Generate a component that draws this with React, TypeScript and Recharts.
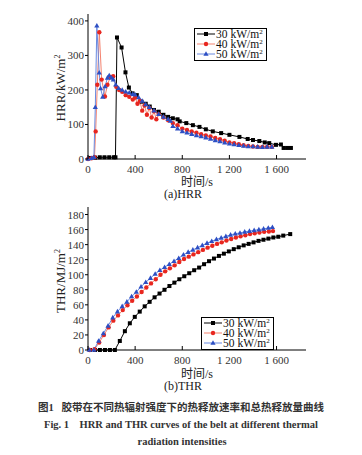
import { Line, LineChart, XAxis, YAxis } from "recharts";

// HRR, kW/m2
const hrr30Time = [20, 60, 100, 140, 180, 220, 233, 246, 285, 318, 347, 378, 414, 454, 490, 524, 560, 600, 640, 680, 720, 760, 778, 834, 890, 946, 1000, 1059, 1130, 1200, 1285, 1355, 1400, 1454, 1500, 1538, 1595, 1637, 1660, 1690, 1722];
const hrr30 = [3, 4, 5, 5, 5, 5, 5, 352, 323, 251, 207, 190, 185, 166, 160, 152, 142, 137, 128, 122, 118, 115, 109, 104, 98, 93, 86, 80, 75, 70, 64, 58, 55, 52, 48, 46, 41, 42, 32, 32, 32];

const hrr40Time = [0, 30, 55, 65, 79, 96, 116, 144, 165, 190, 214, 240, 265, 290, 320, 350, 380, 400, 420, 440, 460, 480, 500, 520, 540, 560, 580, 600, 640, 680, 720, 760, 800, 840, 880, 920, 960, 1000, 1040, 1080, 1120, 1160, 1200, 1240, 1280, 1320, 1360, 1400, 1440, 1480, 1520, 1560];
const hrr40 = [0, 2, 5, 80, 215, 367, 230, 181, 215, 238, 240, 209, 200, 195, 185, 180, 172, 178, 160, 168, 140, 155, 128, 148, 120, 138, 115, 130, 120, 112, 104, 98, 88, 84, 80, 76, 72, 68, 65, 61, 57, 53, 48, 46, 43, 40, 38, 36, 35, 35, 35, 35];

const hrr50Time = [0, 30, 50, 62, 75, 95, 107, 125, 145, 165, 180, 200, 215, 235, 260, 290, 320, 350, 380, 400, 430, 460, 490, 520, 560, 600, 640, 680, 700, 720, 760, 800, 840, 880, 920, 960, 1000, 1040, 1080, 1120, 1160, 1200, 1240, 1280, 1320, 1360, 1400, 1440, 1480, 1520, 1560];
const hrr50 = [0, 2, 5, 150, 386, 250, 204, 180, 210, 235, 242, 235, 230, 215, 205, 200, 195, 192, 188, 186, 178, 168, 158, 150, 140, 130, 122, 115, 110, 95, 88, 80, 76, 72, 68, 65, 62, 58, 54, 51, 47, 44, 42, 40, 38, 36, 36, 35, 34, 35, 35];

// THR, MJ/m2
const thr30Time = [17, 59, 101, 144, 186, 228, 270, 313, 355, 397, 439, 481, 523, 565, 607, 649, 691, 733, 775, 817, 859, 901, 943, 985, 1027, 1069, 1111, 1153, 1195, 1237, 1279, 1321, 1363, 1405, 1447, 1489, 1531, 1573, 1615, 1657, 1716];
const thr30 = [0, 0, 0, 0, 0, 0, 12, 25, 35.5, 44, 51, 58, 64, 70, 75, 80, 85, 89.5, 94, 98, 102, 106, 109.5, 114, 118, 121.5, 125, 128, 131, 134, 136.5, 139, 141, 143, 145, 146.5, 148, 149.5, 150.5, 152, 154];

const thr40Time = [15, 55, 95, 135, 175, 215, 255, 295, 335, 375, 415, 455, 495, 535, 575, 615, 655, 695, 735, 775, 815, 855, 895, 935, 975, 1015, 1055, 1095, 1135, 1175, 1215, 1255, 1295, 1335, 1375, 1415, 1455, 1495, 1535, 1570];
const thr40 = [0, 1, 10, 20, 30, 39, 46, 53, 59.5, 65.5, 71, 77, 83, 88.5, 94, 100, 104.5, 108.5, 112.5, 117, 121, 124, 127, 130, 133, 136, 138.5, 141, 143, 145.5, 147.5, 149.5, 151, 152.5, 154, 155, 156, 157, 157.5, 158];

const thr50Time = [10, 50, 90, 130, 170, 210, 250, 290, 330, 370, 410, 450, 490, 530, 570, 610, 650, 690, 730, 770, 810, 850, 890, 930, 970, 1010, 1050, 1090, 1130, 1170, 1210, 1250, 1290, 1330, 1370, 1410, 1450, 1490, 1530, 1565];
const thr50 = [0, 0, 12, 22, 32, 43, 51, 58, 64, 71, 77, 84, 90, 95.5, 101, 106, 110, 114, 118, 122, 126.5, 130, 133, 136, 139, 142, 144.5, 147, 149, 151, 153, 154.5, 155.5, 157, 158, 159, 160, 161, 162, 163];

const seriesNames = ["30 kW/m", "40 kW/m", "50 kW/m"];
const timeTicks = [0, 400, 800, 1200, 1600];
const hrrTicks = [0, 100, 200, 300, 400];
const thrTicks = [0, 20, 40, 60, 80, 100, 120, 140, 160, 180];

const SERIF = "Liberation Serif, Noto Sans CJK SC, serif";
const TICK_FILL = "#333";
const styles = [
  { line: "#000000", mark: "#000000", shape: "square" },
  { line: "#f4836f", mark: "#e8261f", shape: "circle" },
  { line: "#6a8ae0", mark: "#2d4fc4", shape: "triangle" },
];

const zip = (t: number[], v: number[]) => t.map((x, i) => ({ t: x, v: v[i] }));

function Marker({ cx, cy, shape, color }: { cx: number; cy: number; shape: string; color: string }) {
  if (shape === "square") return <rect x={cx - 2} y={cy - 2} width={4} height={4} fill={color} />;
  if (shape === "circle") return <circle cx={cx} cy={cy} r={2.2} fill={color} />;
  return <polygon points={`${cx},${cy - 2.8} ${cx - 2.6},${cy + 1.8} ${cx + 2.6},${cy + 1.8}`} fill={color} />;
}

function LegendBox({ left, top }: { left: number; top: number }) {
  return (
    <div
      style={{
        position: "absolute",
        left,
        top,
        border: "1px solid #000",
        background: "#fff",
        padding: "0 3px 1px 2px",
        fontFamily: SERIF,
        fontSize: 11.5,
        lineHeight: "10px",
      }}
    >
      {seriesNames.map((name, i) => (
        <div key={name} style={{ display: "flex", alignItems: "center", height: 10 }}>
          <svg width={18} height={8}>
            <line x1={0} y1={4} x2={18} y2={4} stroke={styles[i].line} strokeWidth={1} />
            <Marker cx={9} cy={4} shape={styles[i].shape} color={styles[i].mark} />
          </svg>
          <span style={{ marginLeft: 1, color: "#111", whiteSpace: "nowrap" }}>
            {name}
            <sup style={{ fontSize: 7, verticalAlign: "top", lineHeight: "6px" }}>2</sup>
          </span>
        </div>
      ))}
    </div>
  );
}

const fmtTime = (v: number) => (v >= 1000 ? `${Math.floor(v / 1000)} ${String(v % 1000).padStart(3, "0")}` : String(v));

// recharts hands the tick x/y after the default 6px tick + 2px margin;
// x ticks point up into the plot, y ticks stick out to the left
function TimeTick({ x, y, payload }: any) {
  const axisY = y - 8;
  return (
    <g>
      <line x1={x} y1={axisY} x2={x} y2={axisY - 4} stroke="#000" />
      <text x={x} y={axisY + 14} textAnchor="middle" fontSize={11} fill={TICK_FILL} fontFamily={SERIF}>
        {fmtTime(payload.value)}
      </text>
    </g>
  );
}

function ValueTick({ x, y, payload }: any) {
  const axisX = x + 8;
  return (
    <g>
      <line x1={axisX} y1={y} x2={axisX - 3} y2={y} stroke="#000" />
      <text x={axisX - 4} y={y + 4} textAnchor="end" fontSize={11} fill={TICK_FILL} fontFamily={SERIF}>
        {String(payload.value)}
      </text>
    </g>
  );
}

function Panel({
  series,
  yMax,
  yTicks,
  height,
  top,
}: {
  series: { t: number; v: number }[][];
  yMax: number;
  yTicks: number[];
  height: number;
  top: number;
}) {
  return (
    <LineChart width={362} height={height} margin={{ top, right: 56, bottom: 0, left: 58 }}>
      <XAxis
        dataKey="t"
        type="number"
        domain={[0, 1850]}
        ticks={timeTicks}
        interval={0}
        height={16}
        stroke="#000"
        tickLine={false}
        tick={<TimeTick />}
      />
      <YAxis
        type="number"
        domain={[0, yMax]}
        ticks={yTicks}
        interval={0}
        width={30}
        stroke="#000"
        tickLine={false}
        tick={<ValueTick />}
      />
      {series.map((data, i) => (
        <Line
          key={i}
          data={data}
          dataKey="v"
          type="linear"
          stroke={styles[i].line}
          strokeWidth={1}
          isAnimationActive={false}
          dot={(p: any) => <Marker key={p.index} cx={p.cx} cy={p.cy} shape={styles[i].shape} color={styles[i].mark} />}
          activeDot={false}
        />
      ))}
    </LineChart>
  );
}

const abs = (left: number, top: number, extra: React.CSSProperties = {}): React.CSSProperties => ({
  position: "absolute",
  left,
  top,
  transform: "translate(-50%, -50%)",
  whiteSpace: "nowrap",
  fontFamily: SERIF,
  color: "#222",
  ...extra,
});

export default function App() {
  return (
    <div style={{ position: "absolute", left: 0, top: 0, width: 362, height: 455, background: "#fff" }}>
      {/* axis titles first so the charts paint over them */}
      <svg width={362} height={455} style={{ position: "absolute", left: 0, top: 0 }}>
        <text
          x={61}
          y={88}
          transform="rotate(-90 61 88)"
          textAnchor="middle"
          dy={4}
          fontSize={13}
          fill="#222"
          fontFamily={SERIF}
        >
          HRR/kW/m<tspan fontSize={8} dy={-5}>2</tspan>
        </text>
        <text
          x={61}
          y={281}
          transform="rotate(-90 61 281)"
          textAnchor="middle"
          dy={4}
          fontSize={13}
          fill="#222"
          fontFamily={SERIF}
        >
          THR/MJ/m<tspan fontSize={8} dy={-5}>2</tspan>
        </text>
      </svg>

      <div style={{ position: "absolute", left: 0, top: 0 }}>
        <Panel
          series={[zip(hrr30Time, hrr30), zip(hrr40Time, hrr40), zip(hrr50Time, hrr50)]}
          yMax={420}
          yTicks={hrrTicks}
          height={175}
          top={14}
        />
      </div>
      <div style={{ position: "absolute", left: 0, top: 190 }}>
        <Panel
          series={[zip(thr30Time, thr30), zip(thr40Time, thr40), zip(thr50Time, thr50)]}
          yMax={190}
          yTicks={thrTicks}
          height={176}
          top={17}
        />
      </div>
      <LegendBox left={194} top={28} />
      <LegendBox left={201} top={317} />

      <div style={abs(197, 181, { fontSize: 12 })}>时间/s</div>
      <div style={abs(183, 194, { fontSize: 12 })}>(a)HRR</div>
      <div style={abs(197, 373, { fontSize: 12 })}>时间/s</div>
      <div style={abs(183, 386, { fontSize: 12 })}>(b)THR</div>

      <div style={abs(181, 406, { fontSize: 10.5, fontWeight: 700, color: "#333" })}>
        图1&nbsp;&nbsp;&nbsp;胶带在不同热辐射强度下的热释放速率和总热释放量曲线
      </div>
      <div style={abs(181, 424, { fontSize: 10.5, fontWeight: 700, color: "#333" })}>
        Fig. 1&nbsp;&nbsp;&nbsp;&nbsp;HRR and THR curves of the belt at different thermal
      </div>
      <div style={abs(182, 441, { fontSize: 10.5, fontWeight: 700, color: "#333" })}>radiation intensities</div>
    </div>
  );
}
